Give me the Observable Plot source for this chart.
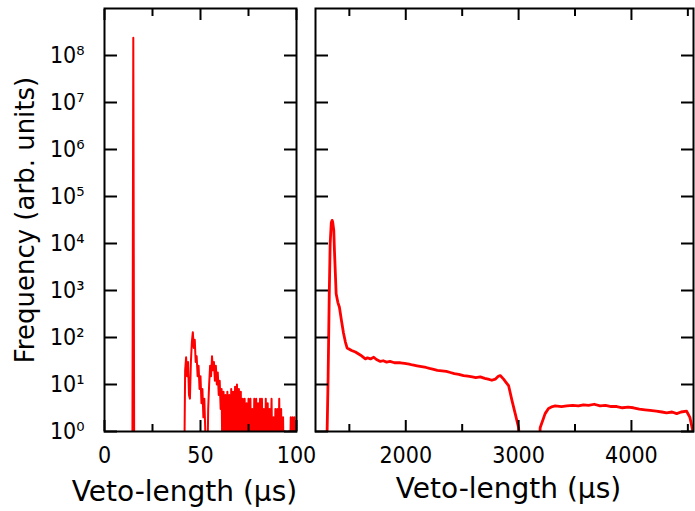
<!DOCTYPE html>
<html><head><meta charset="utf-8">
<script src="https://cdn.jsdelivr.net/npm/d3@7"></script>
<script src="https://cdn.jsdelivr.net/npm/@observablehq/plot@0.6"></script>
<style>
body{margin:0;background:#fff}
#wrap{position:relative;width:695px;height:511px;overflow:hidden;background:#fff}
#left,#right{position:absolute;top:0}
#left{left:0}
#right{left:300px}
svg{overflow:visible;background:transparent}
</style></head>
<body><div id="wrap"><div id="left"></div><div id="right"></div></div>
<script>
// ---- data ----
const yTicks = [1, 10, 100, 1e3, 1e4, 1e5, 1e6, 1e7, 1e8];
const leftMajor = [0, 50, 100];
const leftMinor = [25, 75];
const rightMajor = [2000, 3000, 4000];
const rightMinor = [1500, 2500, 3500, 4500];
const xLabel = "Veto-length (µs)";
const yLabel = "Frequency (arb. units)";

// left panel: narrow spike
const spikeBins = [14.5, 15, 15.5];
const spikeCounts = [0, 2.4e8, 0];
// left panel: tail histogram, bins of 0.5 µs from 40 to 100
const tailStart = 40, tailStep = 0.5;
const tailCounts = [
  0, 0, 0, 0, 20, 38, 15, 30, 6, 5, 30, 80, 130, 60, 90, 30, 40, 15, 25, 8,
  15, 4, 8, 2, 5, 1, 0, 0, 3, 10, 25, 15, 40, 20, 30, 12, 25, 10, 18, 6,
  12, 3, 8, 0,
  7, 0, 6, 0, 7, 0, 6, 0, 8, 0, 7, 0, 9, 0, 10, 0, 8, 0, 7, 0,
  5, 0, 5, 0, 4, 0, 5, 0, 5, 0, 3, 0, 5, 0, 5, 0, 4, 0, 5, 0,
  5, 0, 3, 0, 5, 0, 4, 0, 3, 0, 5, 0, 2, 0, 3, 0, 3, 0, 5, 0,
  3, 0, 2, 0, 1, 0, 0, 0, 1, 0, 2, 0, 2, 0, 2, 0, 0
];

// right panel
const rightX = [
  1200, 1290, 1303, 1312, 1322, 1330, 1340, 1347, 1352, 1362, 1368, 1376, 1383, 1398, 1412, 1430, 1448, 1465, 1480, 1520,
  1554, 1600, 1642, 1660, 1687, 1716, 1740, 1775, 1800, 1830, 1860, 1900, 1952, 1990, 2030, 2060, 2100, 2140, 2180, 2210,
  2247, 2280, 2320, 2360, 2395, 2430, 2470, 2512, 2550, 2590, 2620, 2660, 2700, 2730, 2763, 2793, 2820, 2837, 2867, 2890,
  2911, 2941, 2970, 3000, 3027, 3177, 3191, 3235, 3265, 3300, 3324, 3380, 3427, 3480, 3530, 3575, 3620, 3670, 3722, 3770,
  3820, 3870, 3920, 3970, 4017, 4070, 4120, 4165, 4220, 4270, 4312, 4360, 4401, 4440, 4489, 4518, 4545, 4560
];
const rightCounts = [
  0, 0, 1, 15, 850, 1e4, 2.8e4, 3.1e4, 2.9e4, 1.9e4, 7000, 2300, 850, 560, 440, 230, 125, 80, 60, 53,
  49, 42, 35, 37, 35, 38, 34, 31, 32, 30, 31, 29, 29, 28, 27, 26, 25, 24, 23, 22,
  21, 20, 19.5, 19, 18, 17, 16.5, 15.5, 15, 14.5, 14, 14.5, 13.5, 13, 12.3, 13, 15, 15.5, 13, 11,
  9.5, 4.6, 2.4, 1.2, 0, 0, 1.2, 2.4, 3.1, 3.4, 3.5, 3.4, 3.5, 3.6, 3.5, 3.7, 3.6, 3.8, 3.5, 3.6,
  3.4, 3.4, 3.2, 3.3, 3.2, 3.0, 2.9, 2.8, 2.7, 2.6, 2.5, 2.6, 2.4, 2.6, 2.7, 2.0, 1.0, 0
];

// ---- tables ----
const floorVal = 0.1; // zero counts fall below the log axis and are clipped
const spikeTable = spikeBins.map((x, i) => ({x, y: Math.max(spikeCounts[i], floorVal)}));
const tailTable = tailCounts.map((c, i) => ({x: tailStart + i * tailStep, y: Math.max(c, floorVal)}));
const rightTable = rightX.map((x, i) => ({x, y: Math.max(rightCounts[i], floorVal)}));

const sup = "⁰¹²³⁴⁵⁶⁷⁸⁹";
const fmt = d => "10" + sup[Math.round(Math.log10(d))];
const plain = d => String(d);

const tickFont = "'DejaVu Sans Condensed', 'DejaVu Sans', sans-serif";
const labelFont = "'DejaVu Sans', sans-serif";

function frameAxes(xMaj, xMin) {
  return [
    Plot.frame({stroke: "black", strokeWidth: 2}),
    Plot.axisY(yTicks, {anchor: "left", tickSize: -13, strokeWidth: 2, fill: "none", stroke: "black"}),
    Plot.axisY(yTicks, {anchor: "right", tickSize: -13, strokeWidth: 2, fill: "none", stroke: "black"}),
    Plot.axisX(xMaj, {anchor: "bottom", tickSize: -11, strokeWidth: 2, fill: "none", stroke: "black"}),
    Plot.axisX(xMin, {anchor: "bottom", tickSize: -7, strokeWidth: 2, fill: "none", stroke: "black"}),
    Plot.axisX(xMaj, {anchor: "top", tickSize: -11, strokeWidth: 2, fill: "none", stroke: "black"}),
    Plot.axisX(xMin, {anchor: "top", tickSize: -7, strokeWidth: 2, fill: "none", stroke: "black"}),
    Plot.axisX(xMaj, {anchor: "bottom", tickSize: 0, tickPadding: 15, tickFormat: plain, fontSize: 23, label: null, fill: "black"})
  ];
}

const left = Plot.plot({
  width: 300, height: 511,
  marginLeft: 104, marginRight: 4, marginTop: 8, marginBottom: 80,
  style: {fontFamily: tickFont, color: "black", background: "transparent", overflow: "visible"},
  x: {domain: [0, 100]},
  y: {type: "log", domain: [1, 1e9]},
  marks: [
    Plot.line(tailTable, {x: "x", y: "y", stroke: "red", strokeWidth: 2, clip: true}),
    Plot.line(spikeTable, {x: "x", y: "y", stroke: "red", strokeWidth: 2, clip: true}),
    ...frameAxes(leftMajor, leftMinor),
    Plot.axisY(yTicks, {anchor: "left", tickSize: 0, tickPadding: 20, tickFormat: fmt, fontSize: 23, label: null, fill: "black"}),
    Plot.text([xLabel], {text: d => d, frameAnchor: "bottom", dy: 69, dx: -16, lineAnchor: "bottom", fontSize: 28, fontFamily: labelFont, fill: "black"}),
    Plot.text([yLabel], {text: d => d, frameAnchor: "left", textAnchor: "middle", dx: -71, rotate: -90, lineAnchor: "bottom", fontSize: 26, fontFamily: labelFont, fill: "black"})
  ]
});
document.getElementById("left").append(left);

const right = Plot.plot({
  width: 395, height: 511,
  marginLeft: 15, marginRight: 2, marginTop: 8, marginBottom: 80,
  style: {fontFamily: tickFont, color: "black", background: "transparent", overflow: "visible"},
  x: {domain: [1200, 4550]},
  y: {type: "log", domain: [1, 1e9]},
  marks: [
    Plot.line(rightTable, {x: "x", y: "y", stroke: "red", strokeWidth: 2.8, clip: true}),
    ...frameAxes(rightMajor, rightMinor),
    Plot.text([xLabel], {text: d => d, frameAnchor: "bottom", dy: 66, dx: 4, lineAnchor: "bottom", fontSize: 28, fontFamily: labelFont, fill: "black"})
  ]
});
document.getElementById("right").append(right);
</script></body></html>
